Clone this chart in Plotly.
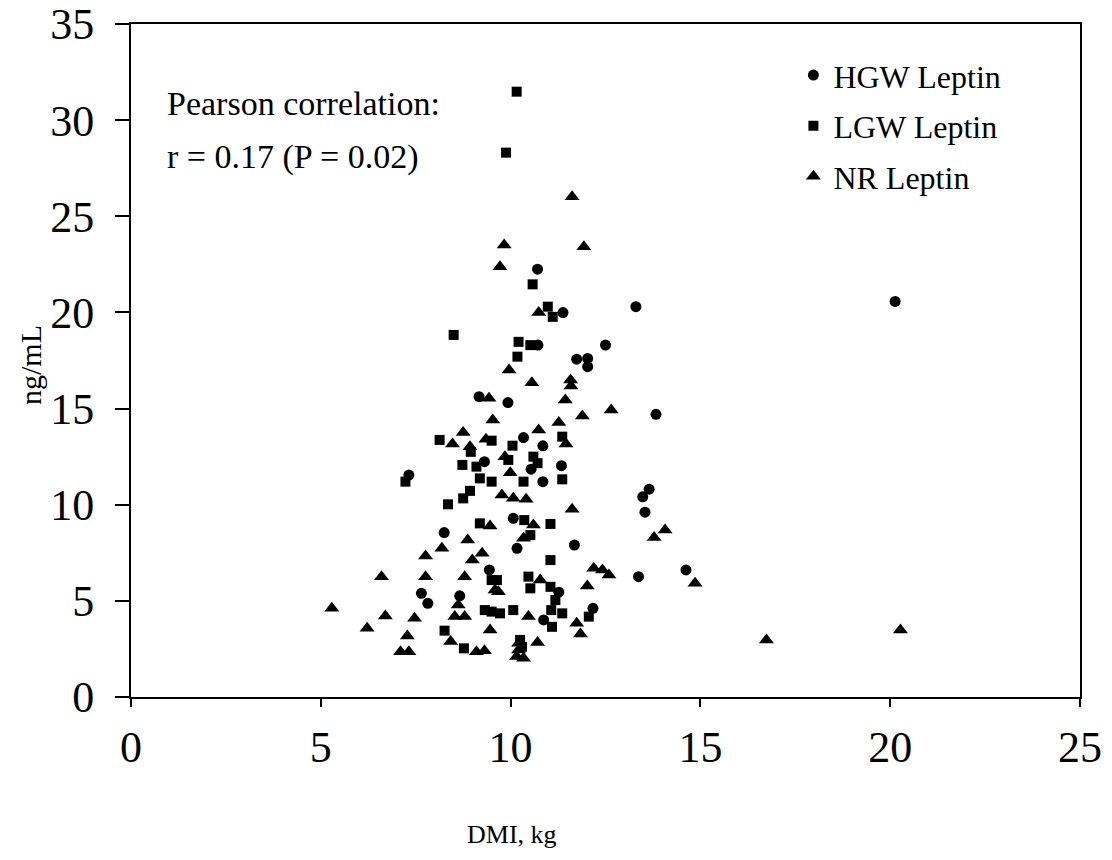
import plotly.graph_objects as go

# HGW Leptin (circles)
hgw_x = [20.13, 10.71, 11.38, 13.30, 10.72, 12.50, 11.74, 12.03, 12.03, 9.17,
         9.93, 10.34, 10.85, 10.54, 11.34, 9.31, 10.85, 7.32, 13.65, 13.48,
         13.54, 10.07, 10.17, 8.25, 11.68, 9.44, 11.27, 13.37, 7.65, 7.82,
         8.66, 14.62, 10.87, 12.17, 13.83]
hgw_y = [20.57, 22.25, 19.99, 20.30, 18.30, 18.30, 17.57, 17.61, 17.18, 15.62,
         15.31, 13.49, 13.06, 11.85, 12.03, 12.24, 11.20, 11.54, 10.81, 10.41,
         9.61, 9.29, 7.73, 8.55, 7.90, 6.61, 5.45, 6.26, 5.39, 4.87,
         5.26, 6.61, 4.01, 4.61, 14.70]

# LGW Leptin (squares)
lgw_x = [10.16, 9.88, 10.58, 10.98, 11.11, 8.50, 10.21, 10.52, 10.18, 8.13,
         9.50, 11.36, 10.05, 8.95, 10.60, 10.71, 8.73, 9.10, 9.19, 9.50,
         10.34, 11.36, 7.23, 9.94, 8.93, 8.75, 8.35, 10.36, 10.52, 11.05,
         9.19, 11.05, 9.50, 9.64, 10.47, 10.52, 11.05, 11.07, 9.32, 9.50,
         9.72, 10.07, 10.25, 10.30, 8.77, 8.26, 11.36, 11.09, 12.06, 11.18]
lgw_y = [31.48, 28.31, 21.46, 20.30, 19.77, 18.83, 18.47, 18.30, 17.70, 13.37,
         13.33, 13.54, 13.07, 12.75, 12.50, 12.16, 12.07, 11.98, 11.37, 11.20,
         11.20, 11.32, 11.20, 12.33, 10.72, 10.33, 10.02, 9.20, 8.42, 9.00,
         9.03, 7.12, 6.08, 6.08, 6.26, 5.65, 5.73, 4.52, 4.52, 4.44,
         4.35, 4.52, 2.97, 2.61, 2.53, 3.45, 4.35, 3.65, 4.18, 5.04]

# NR Leptin (triangles)
nr_x = [11.62, 9.83, 11.93, 9.72, 10.74, 9.96, 10.56, 11.58, 11.59, 9.43,
        11.44, 11.89, 12.65, 9.53, 11.27, 8.75, 8.47, 8.93, 9.35, 10.74,
        11.46, 9.85, 9.99, 9.77, 10.07, 10.41, 11.62, 10.60, 10.34, 9.46,
        8.19, 8.87, 7.76, 8.99, 9.25, 12.19, 12.42, 12.59, 6.60, 7.76,
        8.79, 10.78, 9.68, 12.02, 8.62, 8.53, 8.79, 5.29, 6.70, 7.47,
        6.22, 7.28, 7.10, 7.32, 14.07, 13.78, 14.86, 16.74, 20.27, 10.47,
        9.46, 10.71, 11.74, 11.84, 8.42, 9.10, 9.31, 10.21, 10.21, 10.16,
        10.34, 9.59]
nr_y = [26.02, 23.51, 23.42, 22.38, 19.99, 17.00, 16.34, 16.49, 16.17, 15.54,
        15.45, 14.61, 14.92, 14.41, 14.27, 13.76, 13.16, 13.01, 13.40, 13.88,
        13.16, 12.50, 11.66, 10.50, 10.33, 10.28, 9.76, 8.95, 8.25, 8.89,
        7.73, 8.16, 7.33, 7.12, 7.48, 6.69, 6.61, 6.35, 6.26, 6.26,
        6.26, 6.08, 5.48, 5.77, 4.78, 4.18, 4.18, 4.61, 4.21, 4.10,
        3.57, 3.17, 2.35, 2.35, 8.69, 8.30, 5.91, 2.97, 3.48, 4.18,
        3.48, 2.83, 3.83, 3.28, 2.88, 2.35, 2.41, 2.80, 2.44, 2.10,
        2.01, 5.56]

x_ticks = [0, 5, 10, 15, 20, 25]
y_ticks = [0, 5, 10, 15, 20, 25, 30, 35]

FONT = "Liberation Serif"

fig = go.Figure()
fig.add_trace(go.Scatter(x=hgw_x, y=hgw_y, mode="markers", name="HGW Leptin",
                         legendgroup="a",
                         marker=dict(symbol="circle", size=11, color="black")))
fig.add_trace(go.Scatter(x=lgw_x, y=lgw_y, mode="markers", name="LGW Leptin",
                         legendgroup="b",
                         marker=dict(symbol="square", size=10, color="black")))
fig.add_trace(go.Scatter(x=nr_x, y=nr_y, mode="markers", name="NR Leptin",
                         legendgroup="c",
                         marker=dict(symbol="triangle-up", size=13, color="black")))

fig.update_layout(
    width=1112, height=860,
    margin=dict(l=131, r=32, t=24, b=163, autoexpand=False),
    paper_bgcolor="white", plot_bgcolor="white",
    font=dict(family=FONT, color="black"),
    showlegend=True,
    legend=dict(x=0.698, y=0.9646, xanchor="left", yanchor="top",
                font=dict(family=FONT, size=32, color="black"),
                bgcolor="rgba(0,0,0,0)", tracegroupgap=6,
                itemwidth=30),
    annotations=[
        dict(text="Pearson correlation:", xref="paper", yref="paper",
             x=0.0358, y=0.8826, xanchor="left", yanchor="middle",
             showarrow=False, font=dict(family=FONT, size=34, color="black")),
        dict(text="r = 0.17 (P = 0.02)", xref="paper", yref="paper",
             x=0.0358, y=0.8024, xanchor="left", yanchor="middle",
             showarrow=False, font=dict(family=FONT, size=34, color="black")),
        dict(text="DMI, kg", xref="paper", yref="paper",
             x=(512 - 131) / 949, y=-0.205, xanchor="center", yanchor="middle",
             showarrow=False, font=dict(family=FONT, size=26, color="black")),
        dict(text="ng/mL", xref="paper", yref="paper", textangle=-90,
             x=-(131 - 30) / 949, y=0.4933, xanchor="center", yanchor="middle",
             showarrow=False, font=dict(family=FONT, size=30, color="black")),
    ],
)
fig.update_xaxes(range=[0, 25], tickvals=x_ticks, showgrid=False, zeroline=False,
                 automargin=False,
                 showline=True, linecolor="black", linewidth=2, mirror=True,
                 ticks="outside", ticklen=8, tickwidth=2, tickcolor="black",
                 ticklabelstandoff=2,
                 tickfont=dict(family=FONT, size=44, color="black"))
fig.update_yaxes(range=[0, 35], tickvals=y_ticks, showgrid=False, zeroline=False,
                 automargin=False,
                 showline=True, linecolor="black", linewidth=2, mirror=True,
                 ticks="outside", ticklen=14, tickwidth=2, tickcolor="black",
                 ticklabelstandoff=12,
                 tickfont=dict(family=FONT, size=44, color="black"))

fig.write_html("out.html")
